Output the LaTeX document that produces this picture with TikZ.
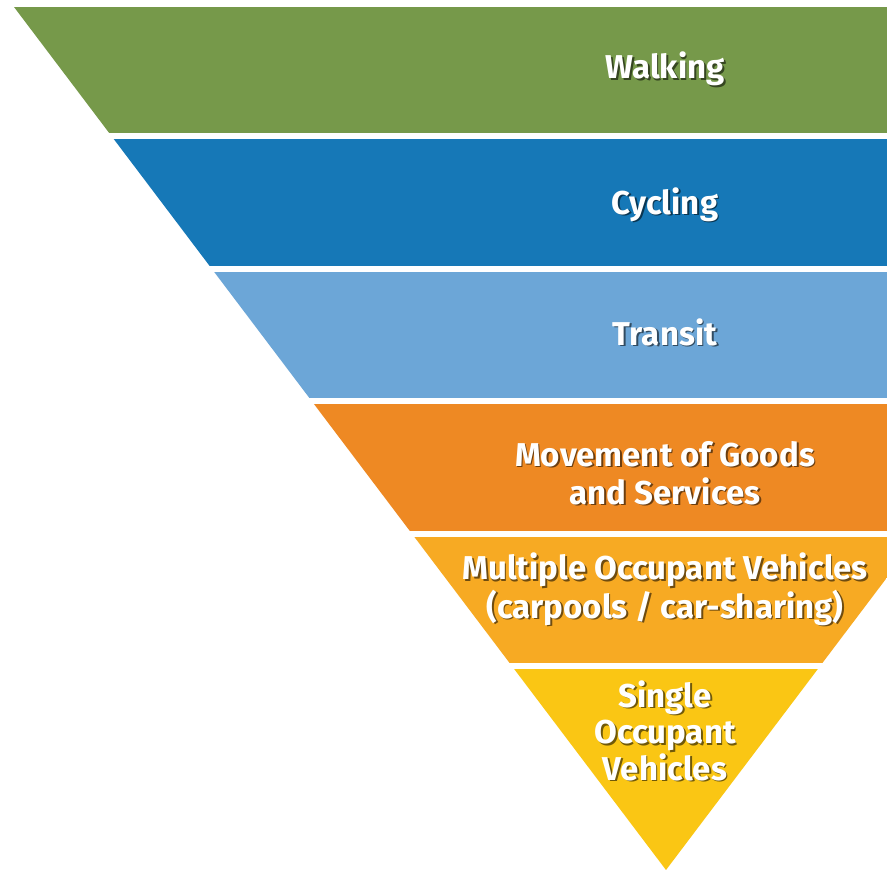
\documentclass[tikz,border=0pt]{standalone}
\usepackage{fontspec}
\setmainfont{Fira Sans}
\usetikzlibrary{positioning}
\definecolor{walkGreen}{RGB}{118,153,74}
\definecolor{cycBlue}{RGB}{22,120,183}
\definecolor{transBlue}{RGB}{108,166,215}
\definecolor{goodsOrange}{RGB}{238,137,35}
\definecolor{mocYellow}{RGB}{247,170,35}
\definecolor{socYellow}{RGB}{250,198,20}
% white text with a dark offset copy underneath
\newcommand{\shd}[2]{\rlap{\hspace{1.8pt}\raisebox{-1.8pt}{\textcolor{#1!45!black}{#2}}}#2}
\tikzset{
  lbl/.style={text=white,align=center,anchor=base,
    font=\bfseries\fontsize{33}{38}\selectfont}
}

\begin{document}
\begin{tikzpicture}[x=1pt,y=-1pt]
  \useasboundingbox[fill=white] (0,0) rectangle (887,883);
  % inverted pyramid, cut off at the right edge
  \begin{scope}
    \clip (14,7) -- (1318,7) -- (666,870) -- cycle;
    \foreach \c [count=\i from 0] in {walkGreen,cycBlue,transBlue,goodsOrange,mocYellow}
      \fill[\c] (0,{7+\i*132.4}) rectangle (887,{133.4+\i*132.4});
    \fill[socYellow] (0,669) rectangle (887,870);
  \end{scope}
  % labels (anchor = baseline of last line)
  \node[lbl] (walking) at (665,79) {\shd{walkGreen}{Walking}};
  \node[lbl] (cycling) at (665,214) {\shd{cycBlue}{Cycling}};
  \node[lbl] (transit) at (665,345) {\shd{transBlue}{Transit}};
  \node[lbl] (goods) at (665,504)
    {\shd{goodsOrange}{Movement of Goods}\\\shd{goodsOrange}{and Services}};
  \node[lbl,font=\bfseries\fontsize{33}{35}\selectfont] (moc) at (665,618)
    {\shd{mocYellow}{Multiple Occupant Vehicles}\\\shd{mocYellow}{(carpools / car-sharing)}};
  \node[lbl,font=\bfseries\fontsize{33}{36.5}\selectfont] (soc) at (665,780)
    {\shd{socYellow}{Single}\\\shd{socYellow}{Occupant}\\\shd{socYellow}{Vehicles}};
\end{tikzpicture}
\end{document}
